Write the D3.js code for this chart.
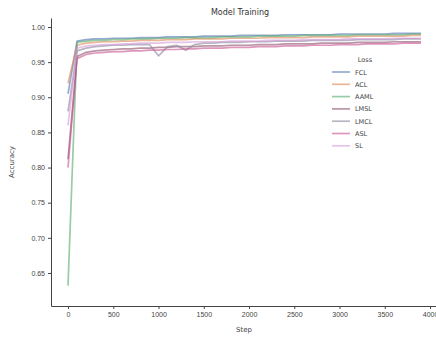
<!DOCTYPE html>
<html>
<head>
<meta charset="utf-8">
<script src="https://cdn.jsdelivr.net/npm/d3@7"></script>
<style>
  body { margin: 0; background: #fff; }
  svg { display: block; font-family: "DejaVu Sans", sans-serif; }
  .axis path, .axis line { stroke: #444; }
  .axis text { fill: #444; font-size: 7px; }
</style>
</head>
<body>
<svg width="436" height="341"></svg>
<script>
// training steps (logged every 100)
const steps = d3.range(0, 4000, 100);

const lossNames = ['FCL', 'ACL', 'AAML', 'LMSL', 'LMCL', 'ASL', 'SL'];
const lossColors = ['#4c72b0', '#dd8452', '#55a868', '#8c4f6a', '#8a849c', '#c8508f', '#d49ad8'];

const accFCL = [
  0.905, 0.980, 0.982, 0.983, 0.983, 0.984, 0.984, 0.984, 0.985, 0.985,
  0.985, 0.986, 0.986, 0.986, 0.986, 0.987, 0.987, 0.987, 0.987, 0.988,
  0.988, 0.988, 0.988, 0.988, 0.989, 0.989, 0.989, 0.989, 0.989, 0.989,
  0.990, 0.990, 0.990, 0.990, 0.990, 0.990, 0.991, 0.991, 0.991, 0.991
];
const accACL = [
  0.920, 0.974, 0.977, 0.978, 0.979, 0.979, 0.980, 0.980, 0.981, 0.981,
  0.981, 0.982, 0.982, 0.982, 0.983, 0.983, 0.983, 0.983, 0.984, 0.984,
  0.984, 0.984, 0.985, 0.985, 0.985, 0.985, 0.985, 0.986, 0.986, 0.986,
  0.986, 0.986, 0.987, 0.987, 0.987, 0.987, 0.987, 0.987, 0.988, 0.988
];
const accAAML = [
  0.632, 0.978, 0.980, 0.981, 0.981, 0.982, 0.982, 0.983, 0.983, 0.983,
  0.984, 0.984, 0.984, 0.985, 0.985, 0.985, 0.985, 0.986, 0.986, 0.986,
  0.986, 0.987, 0.987, 0.987, 0.987, 0.987, 0.988, 0.988, 0.988, 0.988,
  0.988, 0.988, 0.989, 0.989, 0.989, 0.989, 0.989, 0.989, 0.990, 0.990
];
const accLMSL = [
  0.812, 0.958, 0.964, 0.966, 0.967, 0.968, 0.969, 0.969, 0.970, 0.970,
  0.971, 0.971, 0.972, 0.972, 0.972, 0.973, 0.973, 0.973, 0.974, 0.974,
  0.974, 0.975, 0.975, 0.975, 0.976, 0.976, 0.976, 0.976, 0.977, 0.977,
  0.977, 0.977, 0.978, 0.978, 0.978, 0.978, 0.979, 0.979, 0.979, 0.979
];
const accLMCL = [
  0.880, 0.966, 0.970, 0.972, 0.973, 0.974, 0.974, 0.975, 0.975, 0.975,
  0.959, 0.972, 0.974, 0.967, 0.975, 0.977, 0.977, 0.978, 0.978, 0.978,
  0.979, 0.979, 0.979, 0.980, 0.980, 0.980, 0.980, 0.981, 0.981, 0.981,
  0.981, 0.981, 0.982, 0.982, 0.982, 0.982, 0.982, 0.983, 0.983, 0.983
];
const accASL = [
  0.800, 0.955, 0.961, 0.963, 0.964, 0.965, 0.965, 0.966, 0.966, 0.967,
  0.967, 0.968, 0.968, 0.969, 0.969, 0.970, 0.970, 0.970, 0.971, 0.971,
  0.971, 0.972, 0.972, 0.972, 0.973, 0.973, 0.973, 0.974, 0.974, 0.974,
  0.975, 0.975, 0.975, 0.976, 0.976, 0.976, 0.976, 0.977, 0.977, 0.977
];
const accSL = [
  0.860, 0.970, 0.973, 0.974, 0.975, 0.975, 0.976, 0.976, 0.977, 0.977,
  0.977, 0.978, 0.978, 0.978, 0.979, 0.979, 0.979, 0.979, 0.980, 0.980,
  0.980, 0.980, 0.981, 0.981, 0.981, 0.981, 0.982, 0.982, 0.982, 0.982,
  0.982, 0.983, 0.983, 0.983, 0.983, 0.983, 0.984, 0.984, 0.984, 0.984
];

const xTicks = [0, 500, 1000, 1500, 2000, 2500, 3000, 3500, 4000];
const yTicks = [0.65, 0.70, 0.75, 0.80, 0.85, 0.90, 0.95, 1.00];

const series = [accFCL, accACL, accAAML, accLMSL, accLMCL, accASL, accSL]
  .map((vals, i) => ({ name: lossNames[i], color: lossColors[i], vals }));

const svg = d3.select('svg');
const m = { left: 51, right: 436, top: 18, bottom: 306 };

const x = d3.scaleLinear().domain([-188, 4066]).range([m.left, m.right]);
const y = d3.scaleLinear().domain([0.603, 1.0128]).range([m.bottom, m.top]);

// lines
const line = d3.line()
  .x((d, i) => x(steps[i]))
  .y(d => y(d));

svg.append('g')
  .selectAll('path')
  .data(series)
  .enter()
  .append('path')
    .attr('d', d => line(d.vals))
    .attr('fill', 'none')
    .attr('stroke', d => d.color)
    .attr('stroke-opacity', 0.6)
    .attr('stroke-width', 1.7)
    .attr('stroke-linejoin', 'round');

// axes
svg.append('g')
  .attr('class', 'axis')
  .attr('transform', `translate(0,${m.bottom})`)
  .call(d3.axisBottom(x).tickValues(xTicks).tickFormat(d3.format('d')).tickSize(3).tickPadding(3).tickSizeOuter(0));

svg.append('g')
  .attr('class', 'axis')
  .attr('transform', `translate(${m.left},0)`)
  .call(d3.axisLeft(y).tickValues(yTicks).tickFormat(d3.format('.2f')).tickSize(3).tickPadding(3).tickSizeOuter(0));

// labels
svg.append('text')
  .attr('x', 240).attr('y', 15)
  .attr('text-anchor', 'middle')
  .attr('font-size', 8)
  .attr('fill', '#333')
  .text('Model Training');

svg.append('text')
  .attr('x', 244).attr('y', 332)
  .attr('text-anchor', 'middle')
  .attr('font-size', 7)
  .attr('fill', '#444')
  .text('Step');

svg.append('text')
  .attr('transform', `translate(14,${(m.top + m.bottom) / 2}) rotate(-90)`)
  .attr('text-anchor', 'middle')
  .attr('font-size', 7)
  .attr('fill', '#444')
  .text('Accuracy');

// legend
const legend = svg.append('g').attr('transform', 'translate(332,59)');
legend.append('text')
  .attr('x', 33).attr('y', 2.5)
  .attr('text-anchor', 'middle')
  .attr('font-size', 6.5)
  .attr('fill', '#444')
  .text('Loss');

const item = legend.selectAll('g.item')
  .data(series)
  .enter()
  .append('g')
  .attr('class', 'item')
  .attr('transform', (d, i) => `translate(0,${13 + i * 12.3})`);

item.append('line')
  .attr('x1', 0).attr('x2', 18)
  .attr('stroke', d => d.color)
  .attr('stroke-opacity', 0.6)
  .attr('stroke-width', 1.7);

item.append('text')
  .attr('x', 23).attr('y', 2.5)
  .attr('font-size', 6.5)
  .attr('fill', '#444')
  .text(d => d.name);
</script>
</body>
</html>
